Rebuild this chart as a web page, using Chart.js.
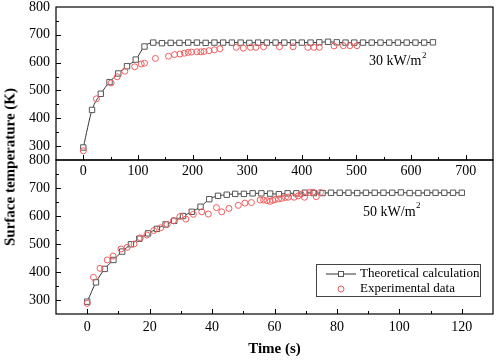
<!DOCTYPE html>
<html>
<head>
<meta charset="utf-8">
<script src="https://cdn.jsdelivr.net/npm/chart.js@4.4.0/dist/chart.umd.min.js"></script>
<style>
  body { margin: 0; background: #fff; width: 498px; height: 363px; position: relative; overflow: hidden; }
  #c1 { position: absolute; left: 0; top: 0; }
  #c2 { position: absolute; left: 0; top: 150px; }
  #ytitle {
    position: absolute; left: 10px; top: 167px;
    transform: translate(-50%, -50%) rotate(-90deg);
    font: bold 15px "Liberation Serif", serif; white-space: nowrap; color: #000;
  }
</style>
</head>
<body>
<canvas id="c2" width="498" height="213"></canvas>
<canvas id="c1" width="498" height="185"></canvas>
<div id="ytitle">Surface temperature (K)</div>
<script>
// top panel: 30 kW/m2
const topTimeTheory = [0,16,32,48,64,80,96,112,128,144,160,176,192,208,224,240,256,272,288,304,320,336,352,368,384,400,416,432,448,464,480,496,512,528,544,560,576,592,608,624,640];
const topTempTheory = [295,430,488,530,561,587,611,658,672,670,671,671,672,672,671,672,672,672,672,671,672,672,672,672,672,672,672,673,675,673,672,672,672,672,672,672,672,672,672,672,673];
const topTimeExp = [0,24,51,62,76,94,106,112,132,156,167,177,185,192,198,208,215,221,230,240,250,280,293,306,316,330,359,384,411,422,432,459,476,488,501];
const topTempExp = [283,470,527,549,569,585,595,598,615,623,629,631,634,637,638,639,639,640,643,646,650,655,652,655,655,657,657,657,655,655,655,660,661,661,661];

// bottom panel: 50 kW/m2
const botTimeTheory = [0,2.8,5.6,8.4,11.2,14,16.7,19.5,22.3,25.1,27.9,30.7,33.5,36.3,39.1,41.9,44.7,47.4,50.2,53,55.8,58.6,61.4,64.2,67,69.8,72.6,75.4,78.1,80.9,83.7,86.5,89.3,92.1,94.9,97.7,100.5,103.3,106.1,108.9,111.6,114.4,117.2,120];
const botTempTheory = [294,363,411,443,473,499,519,538,554,570,583,600,615,633,660,672,676,679,679,681,681,680,678,681,681,683,682,682,683,683,683,682,683,683,683,683,684,682,682,683,683,683,683,683];
const botTimeExp = [0,2,4.1,6.4,8.3,10.8,12.8,15,17,19.1,21.3,23.5,25.6,27.6,29.7,31.6,34,36.7,38.8,41.4,43.1,45.4,48.4,50.5,52.6,55.4,56.5,57.6,58.6,59.4,60.2,61.3,62.3,63.5,64.4,66.3,67.6,68.5,69.6,71.2,72.3,73.4,74.7];
const botTempExp = [288,381,413,443,457,482,488,500,522,532,548,558,570,583,598,589,606,615,607,630,615,627,638,646,648,657,657,655,652,656,659,661,663,666,667,667,672,678,667,684,685,669,684];

// ticks
const yTicks = [300,400,500,600,700,800];
const yMinor = [250,350,450,550,650,750];
const topXTicks = [0,100,200,300,400,500,600,700];
const topXMinor = [-50,50,150,250,350,450,550,650,750];
const botXTicks = [0,20,40,60,80,100,120];
const botXMinor = [-10,10,30,50,70,90,110,130];

const seriesNames = ['Theoretical calculation', 'Experimental data'];

Chart.defaults.font.family = '"Liberation Serif", "Times New Roman", serif';
Chart.defaults.font.size = 14;
Chart.defaults.color = '#000';

const lineColor = '#333';
const squareColor = '#555';
const circleColor = 'rgb(242,92,92)';

// frame + inward ticks
const frameTicks = {
  id: 'frameTicks',
  afterDraw(chart, args, o) {
    const { ctx, chartArea: a, scales: { x, y } } = chart;
    ctx.save();
    ctx.strokeStyle = '#000';
    ctx.lineWidth = 1.2;
    ctx.strokeRect(a.left, a.top, a.right - a.left, a.bottom - a.top);
    ctx.lineWidth = 1;
    ctx.beginPath();
    const xt = (vals, len) => vals.forEach(v => {
      const p = Math.round(x.getPixelForValue(v)) + 0.5;
      if (p < a.left + 1 || p > a.right - 1) return;
      ctx.moveTo(p, a.bottom); ctx.lineTo(p, a.bottom - len);
    });
    const yt = (vals, len) => vals.forEach(v => {
      const p = Math.round(y.getPixelForValue(v)) + 0.5;
      if (p < a.top + 1 || p > a.bottom - 1) return;
      ctx.moveTo(a.left, p); ctx.lineTo(a.left + len, p);
    });
    xt(o.xMajor, 5); xt(o.xMinor, 3);
    yt(o.yMajor, 5); yt(o.yMinor, 3);
    ctx.stroke();
    ctx.restore();
  }
};

// "xx kW/m2" note
const powerNote = {
  id: 'powerNote',
  afterDraw(chart, args, o) {
    const { ctx, scales: { x, y } } = chart;
    const cx = x.getPixelForValue(o.x), cy = y.getPixelForValue(o.y);
    ctx.save();
    ctx.fillStyle = '#000';
    ctx.textBaseline = 'middle';
    ctx.font = '14px "Liberation Serif", serif';
    const w1 = ctx.measureText(o.text).width;
    ctx.font = '9px "Liberation Serif", serif';
    const w2 = ctx.measureText('2').width;
    const left = cx - (w1 + w2) / 2;
    ctx.font = '14px "Liberation Serif", serif';
    ctx.fillText(o.text, left, cy);
    ctx.font = '9px "Liberation Serif", serif';
    ctx.fillText('2', left + w1 + 0.5, cy - 6);
    ctx.restore();
  }
};

// legend box drawn inside bottom panel
const boxLegend = {
  id: 'boxLegend',
  afterDraw(chart, args, o) {
    if (!o.show) return;
    const { ctx, chartArea: a } = chart;
    const w = 164, h = 32;
    const left = a.right - 13 - w, top = a.top + 104;
    ctx.save();
    ctx.strokeStyle = '#444';
    ctx.lineWidth = 1;
    ctx.strokeRect(Math.round(left) + 0.5, Math.round(top) + 0.5, w, h);
    const r1 = top + 10, r2 = top + 25;
    // line + square
    ctx.strokeStyle = lineColor;
    ctx.beginPath();
    ctx.moveTo(left + 10, r1); ctx.lineTo(left + 40, r1);
    ctx.stroke();
    ctx.fillStyle = '#fff';
    ctx.strokeStyle = squareColor;
    ctx.fillRect(left + 22, r1 - 3, 6, 6);
    ctx.strokeRect(left + 22.5, r1 - 2.5, 5, 5);
    // circle
    ctx.strokeStyle = circleColor;
    ctx.beginPath();
    ctx.arc(left + 25, r2, 3, 0, Math.PI * 2);
    ctx.stroke();
    ctx.fillStyle = '#000';
    ctx.textBaseline = 'middle';
    ctx.font = '13px "Liberation Serif", serif';
    ctx.fillText(seriesNames[0], left + 44, r1);
    ctx.fillText(seriesNames[1], left + 44, r2);
    ctx.restore();
  }
};

function makeChart(el, cfg) {
  const toPts = (xs, ys) => xs.map((v, i) => ({ x: v, y: ys[i] }));
  return new Chart(document.getElementById(el), {
    type: 'line',
    data: {
      datasets: [
        {
          label: seriesNames[0],
          data: toPts(cfg.tT, cfg.yT),
          borderColor: lineColor,
          borderWidth: 1,
          cubicInterpolationMode: 'monotone',
          pointStyle: 'rect',
          pointRadius: 3.8,
          pointBorderWidth: 1,
          pointBorderColor: squareColor,
          pointBackgroundColor: '#fff',
          order: 2
        },
        {
          label: seriesNames[1],
          data: toPts(cfg.tE, cfg.yE),
          showLine: false,
          pointStyle: 'circle',
          pointRadius: 3,
          pointBorderWidth: 1,
          pointBorderColor: circleColor,
          pointBackgroundColor: 'rgba(0,0,0,0)',
          order: 1
        }
      ]
    },
    options: {
      responsive: false,
      animation: false,
      layout: { padding: { top: cfg.padTop, right: 3, left: 0, bottom: 0 } },
      plugins: {
        legend: { display: false },
        tooltip: { enabled: false },
        frameTicks: { xMajor: cfg.xTicks, xMinor: cfg.xMinor, yMajor: yTicks, yMinor: yMinor },
        powerNote: cfg.note,
        boxLegend: { show: cfg.legend }
      },
      scales: {
        x: {
          type: 'linear',
          min: cfg.xMin, max: cfg.xMax,
          grid: { display: false, drawTicks: false },
          border: { display: false },
          ticks: { padding: cfg.xPad, maxRotation: 0 },
          afterBuildTicks: s => { s.ticks = cfg.xTicks.map(v => ({ value: v })); },
          afterFit: s => { s.height = cfg.xHeight; s.paddingLeft = 0; s.paddingRight = 0; },
          title: cfg.xTitle
        },
        y: {
          min: 250, max: 800,
          grid: { display: false, drawTicks: false },
          border: { display: false },
          ticks: { padding: 6 },
          afterBuildTicks: s => { s.ticks = yTicks.map(v => ({ value: v })); },
          afterFit: s => { s.width = 56; s.paddingTop = 0; s.paddingBottom = 0; }
        }
      }
    },
    plugins: [frameTicks, powerNote, boxLegend]
  });
}

makeChart('c1', {
  tT: topTimeTheory, yT: topTempTheory, tE: topTimeExp, yE: topTempExp,
  xMin: -50, xMax: 750, xTicks: topXTicks, xMinor: topXMinor,
  padTop: 7, xHeight: 25, xPad: 3,
  xTitle: { display: false },
  note: { text: '30 kW/m', x: 575, y: 603 },
  legend: false
});

makeChart('c2', {
  tT: botTimeTheory, yT: botTempTheory, tE: botTimeExp, yE: botTempExp,
  xMin: -10, xMax: 130, xTicks: botXTicks, xMinor: botXMinor,
  padTop: 10, xHeight: 49, xPad: 5,
  xTitle: { display: true, text: 'Time (s)', font: { size: 15, weight: 'bold' }, padding: { top: 0, bottom: 5 } },
  note: { text: '50 kW/m', x: 97.5, y: 614 },
  legend: true
});
</script>
</body>
</html>
